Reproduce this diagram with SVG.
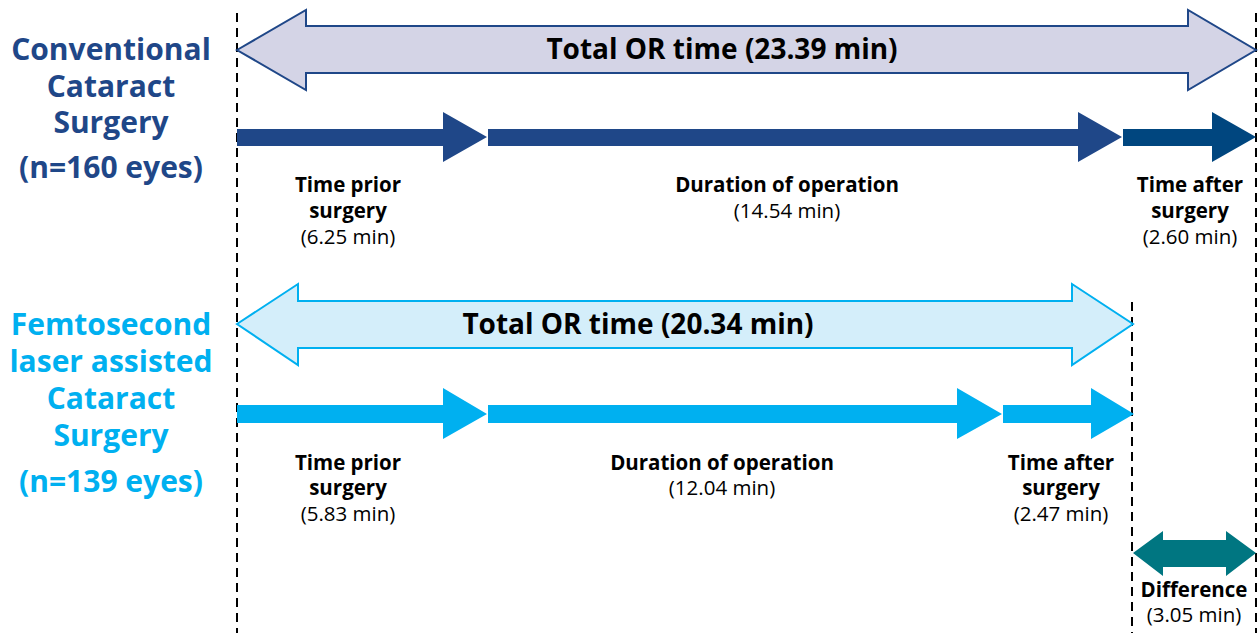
<svg xmlns="http://www.w3.org/2000/svg" width="1260" height="633" viewBox="0 0 1260 633">
<style>
text{font-family:"Open Sans","Noto Sans","Liberation Sans",sans-serif;text-anchor:middle}
.t{font-size:30px;font-weight:bold}
.conv{fill:#1f4788}
.fem{fill:#00b0f0}
.big{font-size:28px;font-weight:bold;fill:#000}
.lb{font-size:20.5px;font-weight:bold;fill:#000}
.ln{font-size:20.5px;fill:#000}
.dash{stroke:#000;stroke-width:2;stroke-dasharray:9,6;fill:none}
</style>
<g id="guides">
<line class="dash" x1="237" y1="13" x2="237" y2="633"/>
<line class="dash" x1="1256" y1="13" x2="1256" y2="633"/>
<line class="dash" x1="1132" y1="302" x2="1132" y2="633"/>
</g>
<g id="title-conv">
<text class="t conv" x="111" y="60">Conventional</text>
<text class="t conv" x="111" y="97">Cataract</text>
<text class="t conv" x="111" y="133">Surgery</text>
<text class="t conv" x="111" y="178">(n=160 eyes)</text>
</g>
<g id="title-fem">
<text class="t fem" x="111" y="335">Femtosecond</text>
<text class="t fem" x="111" y="372">laser assisted</text>
<text class="t fem" x="111" y="409">Cataract</text>
<text class="t fem" x="111" y="446">Surgery</text>
<text class="t fem" x="111" y="492">(n=139 eyes)</text>
</g>
<g id="total-conv">
<polygon points="237,50 306,10 306,26 1188,26 1188,10 1256,50 1188,90 1188,73 306,73 306,90" fill="#d4d4e6" stroke="#1f4788" stroke-width="2"/>
<text class="big" x="722" y="59">Total OR time (23.39 min)</text>
</g>
<g id="total-fem">
<polygon points="237,324 298,284 298,301 1072,301 1072,284 1133,324 1072,365 1072,348 298,348 298,365" fill="#d4eefa" stroke="#00b0f0" stroke-width="2"/>
<text class="big" x="638" y="334">Total OR time (20.34 min)</text>
</g>
<g id="connectors">
<polygon points="237,129 443,129 443,112 487,137 443,162 443,146 237,146" fill="#1f4788"/>
<polygon points="488,129 1078,129 1078,112 1122,137 1078,162 1078,146 488,146" fill="#1f4788"/>
<polygon points="1123,129 1212,129 1212,112 1256,137 1212,162 1212,146 1123,146" fill="#00467f"/>
<polygon points="237,405 443,405 443,388 487,414 443,439 443,423 237,423" fill="#00b0f0"/>
<polygon points="488,405 957,405 957,388 1002,414 957,439 957,423 488,423" fill="#00b0f0"/>
<polygon points="1003,405 1091,405 1091,388 1134,414 1091,439 1091,423 1003,423" fill="#00b0f0"/>
<polygon points="1133,553 1163,531 1163,540 1226,540 1226,531 1256,553 1226,576 1226,567 1163,567 1163,576" fill="#007681"/>
</g>
<g id="lbl-conv-prior">
<text class="lb" x="348" y="192">Time prior</text>
<text class="lb" x="348" y="218">surgery</text>
<text class="ln" x="348" y="244">(6.25 min)</text>
</g>
<g id="lbl-conv-op">
<text class="lb" x="787" y="192">Duration of operation</text>
<text class="ln" x="787" y="218">(14.54 min)</text>
</g>
<g id="lbl-conv-after">
<text class="lb" x="1190" y="192">Time after</text>
<text class="lb" x="1190" y="218">surgery</text>
<text class="ln" x="1190" y="244">(2.60 min)</text>
</g>
<g id="lbl-fem-prior">
<text class="lb" x="348" y="470">Time prior</text>
<text class="lb" x="348" y="495">surgery</text>
<text class="ln" x="348" y="521">(5.83 min)</text>
</g>
<g id="lbl-fem-op">
<text class="lb" x="722" y="470">Duration of operation</text>
<text class="ln" x="722" y="495">(12.04 min)</text>
</g>
<g id="lbl-fem-after">
<text class="lb" x="1061" y="470">Time after</text>
<text class="lb" x="1061" y="495">surgery</text>
<text class="ln" x="1061" y="521">(2.47 min)</text>
</g>
<g id="lbl-diff">
<text class="lb" x="1194" y="597">Difference</text>
<text class="ln" x="1194" y="622">(3.05 min)</text>
</g>
</svg>
